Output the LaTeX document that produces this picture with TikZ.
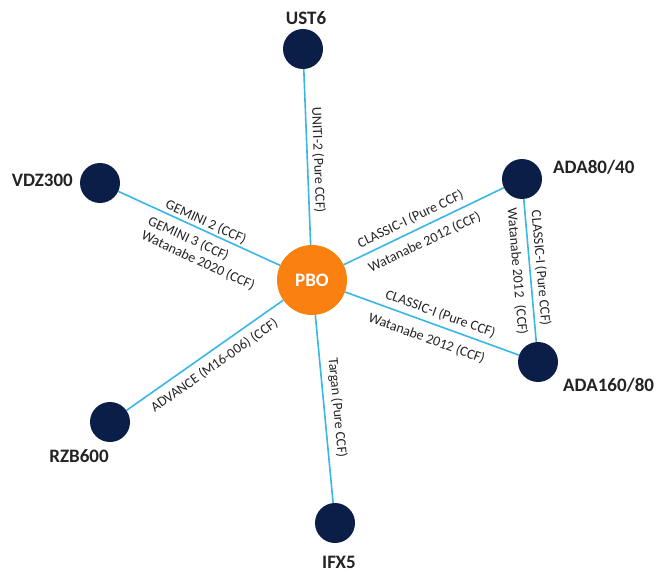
\documentclass[tikz,border=0pt]{standalone}
\usepackage{fontspec}
\setmainfont{Carlito}
\definecolor{navy}{RGB}{10,30,72}
\definecolor{hub}{RGB}{250,128,16}
\definecolor{linkblue}{RGB}{56,182,232}
\definecolor{ink}{RGB}{35,35,35}

\begin{document}
\begin{tikzpicture}[x=1pt,y=-1pt,
  site/.style={circle, fill=navy, minimum size=40pt, inner sep=0pt},
  hubnode/.style={circle, fill=hub, minimum size=70pt, inner sep=0pt,
    text=white, font=\fontsize{19}{22}\selectfont\bfseries},
  sitename/.style={font=\fontsize{19}{22}\selectfont\bfseries, text=ink, inner sep=0pt},
  link/.style={draw=linkblue, line width=1.6pt},
  study/.style={font=\fontsize{14}{16}\selectfont, text=ink, inner sep=0pt, sloped},
]
\useasboundingbox (0,0) rectangle (661,572);

% hub and reactor sites
\node[hubnode] (pbo) at (312,280) {PBO};
\node[site] (ust) at (303,49) {};
\node[site] (vdz) at (100,183) {};
\node[site] (ada80) at (522,179) {};
\node[site] (ada160) at (538,362) {};
\node[site] (rzb) at (110,422) {};
\node[site] (ifx) at (335,523) {};

% site names
\node[sitename, anchor=base] (ust-name) at (306,25) {UST6};
\node[sitename, anchor=base east] (vdz-name) at (73,187) {VDZ300};
\node[sitename, anchor=base west] (ada80-name) at (553,174) {ADA80/40};
\node[sitename, anchor=base west] (ada160-name) at (563,391) {ADA160/80};
\node[sitename, anchor=base] (rzb-name) at (79,462) {RZB600};
\node[sitename, anchor=base] (ifx-name) at (339,568) {IFX5};

% links with the studies that connect the sites
\draw[link] (ust) -- node[study, pos=0.52, above=4pt] {UNITI-2 (Pure CCF)} (pbo);
\draw[link] (vdz) --
  node[study, pos=0.52, above=1.5pt] {GEMINI 2 (CCF)}
  node[study, pos=0.57, below=7pt, align=left] {GEMINI 3 (CCF)\\Watanabe 2020 (CCF)} (pbo);
\draw[link] (pbo) --
  node[study, pos=0.45, above=5pt] {CLASSIC-I (Pure CCF)}
  node[study, pos=0.465, below=8pt] {Watanabe 2012 (CCF)} (ada80);
\draw[link] (pbo) --
  node[study, pos=0.525, above=5pt] {CLASSIC-I (Pure CCF)}
  node[study, pos=0.50, below=9pt] {Watanabe 2012 (CCF)} (ada160);
\draw[link] (ada80) --
  node[study, pos=0.49, above=4pt] {CLASSIC-I (Pure CCF)}
  node[study, pos=0.50, below=6pt] {Watanabe 2012\hspace{0.3em} (CCF)} (ada160);
\draw[link] (rzb) -- node[study, pos=0.51, below=7pt] {ADVANCE (M16-006) (CCF)} (pbo);
\draw[link] (pbo) -- node[study, pos=0.50, above=6pt] {Targan (Pure CCF)} (ifx);
\end{tikzpicture}
\end{document}
